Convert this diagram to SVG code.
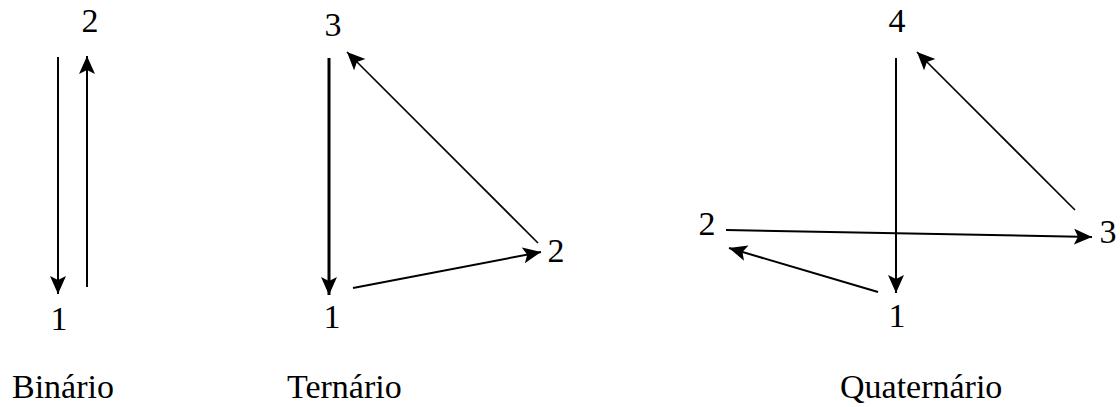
<svg xmlns="http://www.w3.org/2000/svg" width="1120" height="407" viewBox="0 0 1120 407" font-family="'Liberation Serif', 'DejaVu Serif', serif">
<style>
text{font-family:'Liberation Serif','DejaVu Serif',serif;font-size:34px;fill:#000}
.n{text-anchor:middle}
line{stroke:#000;fill:none}
.t{stroke-width:1.6}
.m{stroke-width:2}
.k{stroke-width:3}
</style>
<defs>
<marker id="ah" markerUnits="userSpaceOnUse" markerWidth="20" markerHeight="18" refX="18" refY="8" orient="auto">
<path d="M0,0 L18,8 L0,16 L4,8 Z" fill="#000"/>
</marker>
</defs>
<rect width="1120" height="407" fill="#fff"/>
<g id="connectors">
<line class="m" x1="58" y1="57" x2="58" y2="294" marker-end="url(#ah)"/>
<line class="m" x1="87" y1="287" x2="87" y2="56" marker-end="url(#ah)"/>
<line class="k" x1="329" y1="58" x2="329" y2="295" marker-end="url(#ah)"/>
<line class="t" x1="538" y1="243" x2="347" y2="52" marker-end="url(#ah)"/>
<line class="m" x1="353" y1="288" x2="541" y2="252" marker-end="url(#ah)"/>
<line class="m" x1="896" y1="58" x2="896" y2="293" marker-end="url(#ah)"/>
<line class="m" x1="726" y1="230" x2="1092" y2="237" marker-end="url(#ah)"/>
<line class="t" x1="1075" y1="210" x2="917" y2="52" marker-end="url(#ah)"/>
<line class="m" x1="878" y1="292" x2="729" y2="248" marker-end="url(#ah)"/>
</g>
<g id="binario">
<g id="b2"><text class="n" x="90" y="32">2</text></g>
<g id="b1"><text class="n" x="59" y="330">1</text></g>
<text x="12" y="398">Binário</text>
</g>
<g id="ternario">
<g id="t3"><text class="n" x="333" y="36">3</text></g>
<g id="t1"><text class="n" x="332" y="328">1</text></g>
<g id="t2"><text class="n" x="556" y="262">2</text></g>
<text x="287" y="398">Ternário</text>
</g>
<g id="quaternario">
<g id="q4"><text class="n" x="897" y="32">4</text></g>
<g id="q1"><text class="n" x="897" y="327">1</text></g>
<g id="q2"><text class="n" x="707" y="235">2</text></g>
<g id="q3"><text class="n" x="1108" y="243">3</text></g>
<text x="840" y="398">Quaternário</text>
</g>
</svg>
